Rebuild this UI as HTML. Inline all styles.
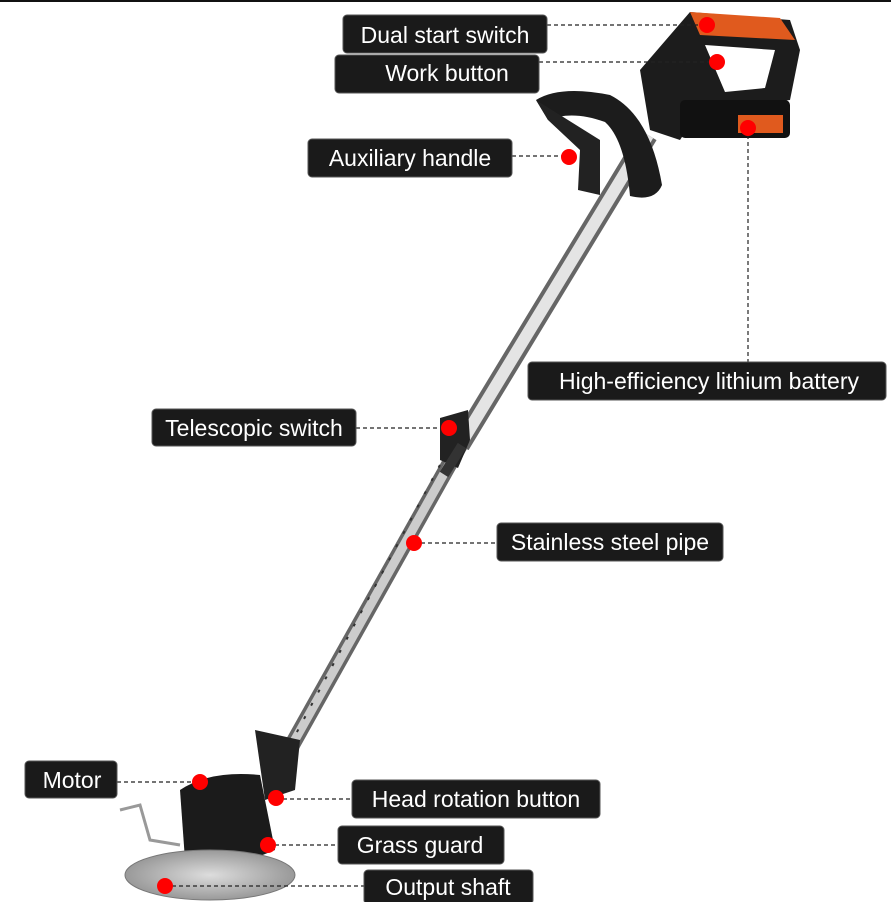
<!DOCTYPE html>
<html><head><meta charset="utf-8"><style>
html,body{margin:0;padding:0;background:#fff;}
svg{display:block}
text{font-family:"Liberation Sans",sans-serif;font-size:23px;fill:#fff;}
</style></head><body>
<svg width="891" height="902" viewBox="0 0 891 902" xmlns="http://www.w3.org/2000/svg">
<defs>
<radialGradient id="blade" cx="0.5" cy="0.5" r="0.5">
<stop offset="0" stop-color="#ddd"/><stop offset="1" stop-color="#999"/>
</radialGradient>
</defs>
<rect x="0" y="0" width="891" height="2" fill="#111"/>
<!-- pipe -->
<line x1="648" y1="135" x2="460" y2="445" stroke="#666" stroke-width="20"/>
<line x1="648" y1="135" x2="460" y2="445" stroke="#e4e4e4" stroke-width="12"/>
<line x1="460" y1="445" x2="278" y2="770" stroke="#666" stroke-width="16"/>
<line x1="460" y1="445" x2="278" y2="770" stroke="#ccc" stroke-width="9"/>
<line x1="440" y1="465" x2="290" y2="745" stroke="#333" stroke-width="2" stroke-dasharray="3 12"/>
<!-- telescopic collar -->
<polygon points="440,418 468,410 470,440 458,468 440,460" fill="#222"/>
<rect x="436" y="455" width="34" height="10" fill="#333" transform="rotate(-58 453 460)"/>
<!-- main handle -->
<path d="M640,70 L690,12 L790,20 L800,50 L790,100 L700,110 L680,140 L650,130 Z" fill="#1c1c1c"/>
<path d="M690,12 L780,18 L795,40 L700,35 Z" fill="#e05a1e"/>
<path d="M705,45 L775,50 L765,88 L725,92 Z" fill="#fff"/>
<rect x="680" y="100" width="110" height="38" rx="5" fill="#111"/>
<rect x="738" y="115" width="45" height="18" fill="#e05a1e"/>
<!-- auxiliary handle -->
<path d="M536,100 Q560,85 610,95 Q650,115 662,185 Q655,202 630,196 Q625,140 605,122 Q572,110 548,120 Z" fill="#1c1c1c"/>
<path d="M536,100 L548,120 L580,150 L578,190 L600,195 L600,140 Z" fill="#222"/>
<!-- head -->
<polygon points="255,730 300,740 295,790 265,800" fill="#222"/>
<path d="M180,790 Q210,770 260,775 L275,850 Q230,870 185,860 Z" fill="#1b1b1b"/>
<path d="M120,810 L140,805 L150,840 L180,845" stroke="#999" stroke-width="3" fill="none"/>
<ellipse cx="210" cy="875" rx="85" ry="25" fill="url(#blade)" stroke="#777"/>
<!-- connectors -->
<g stroke="#222" stroke-width="1.2" stroke-dasharray="4 3" fill="none">
<line x1="547" y1="25" x2="705" y2="25"/>
<line x1="539" y1="62" x2="715" y2="62"/>
<line x1="512" y1="156" x2="568" y2="156"/>
<line x1="748" y1="128" x2="748" y2="362"/>
<line x1="356" y1="428" x2="448" y2="428"/>
<line x1="414" y1="543" x2="497" y2="543"/>
<line x1="117" y1="782" x2="200" y2="782"/>
<line x1="276" y1="799" x2="352" y2="799"/>
<line x1="268" y1="845" x2="338" y2="845"/>
<line x1="165" y1="886" x2="364" y2="886"/>
</g>
<!-- dots -->
<g fill="#f00">
<circle cx="707" cy="25" r="8"/><circle cx="717" cy="62" r="8"/>
<circle cx="569" cy="157" r="8"/><circle cx="748" cy="128" r="8"/>
<circle cx="449" cy="428" r="8"/><circle cx="414" cy="543" r="8"/>
<circle cx="200" cy="782" r="8"/><circle cx="276" cy="798" r="8"/>
<circle cx="268" cy="845" r="8"/><circle cx="165" cy="886" r="8"/>
</g>
<!-- labels -->
<g fill="#1a1a1a" stroke="#555" stroke-width="1">
<rect x="343" y="15" width="204" height="38" rx="4"/>
<rect x="335" y="55" width="204" height="38" rx="4"/>
<rect x="308" y="139" width="204" height="38" rx="4"/>
<rect x="528" y="362" width="358" height="38" rx="4"/>
<rect x="152" y="409" width="204" height="37" rx="4"/>
<rect x="497" y="523" width="226" height="38" rx="4"/>
<rect x="25" y="761" width="92" height="37" rx="4"/>
<rect x="352" y="780" width="248" height="38" rx="4"/>
<rect x="338" y="826" width="166" height="38" rx="4"/>
<rect x="364" y="870" width="169" height="34" rx="4"/>
</g>
<text x="445" y="43" text-anchor="middle">Dual start switch</text>
<text x="447" y="81" text-anchor="middle">Work button</text>
<text x="410" y="166" text-anchor="middle">Auxiliary handle</text>
<text x="709" y="389" text-anchor="middle">High-efficiency lithium battery</text>
<text x="254" y="436" text-anchor="middle">Telescopic switch</text>
<text x="610" y="550" text-anchor="middle">Stainless steel pipe</text>
<text x="72" y="788" text-anchor="middle">Motor</text>
<text x="476" y="807" text-anchor="middle">Head rotation button</text>
<text x="420" y="853" text-anchor="middle">Grass guard</text>
<text x="448" y="895" text-anchor="middle">Output shaft</text>
</svg>
</body></html>
